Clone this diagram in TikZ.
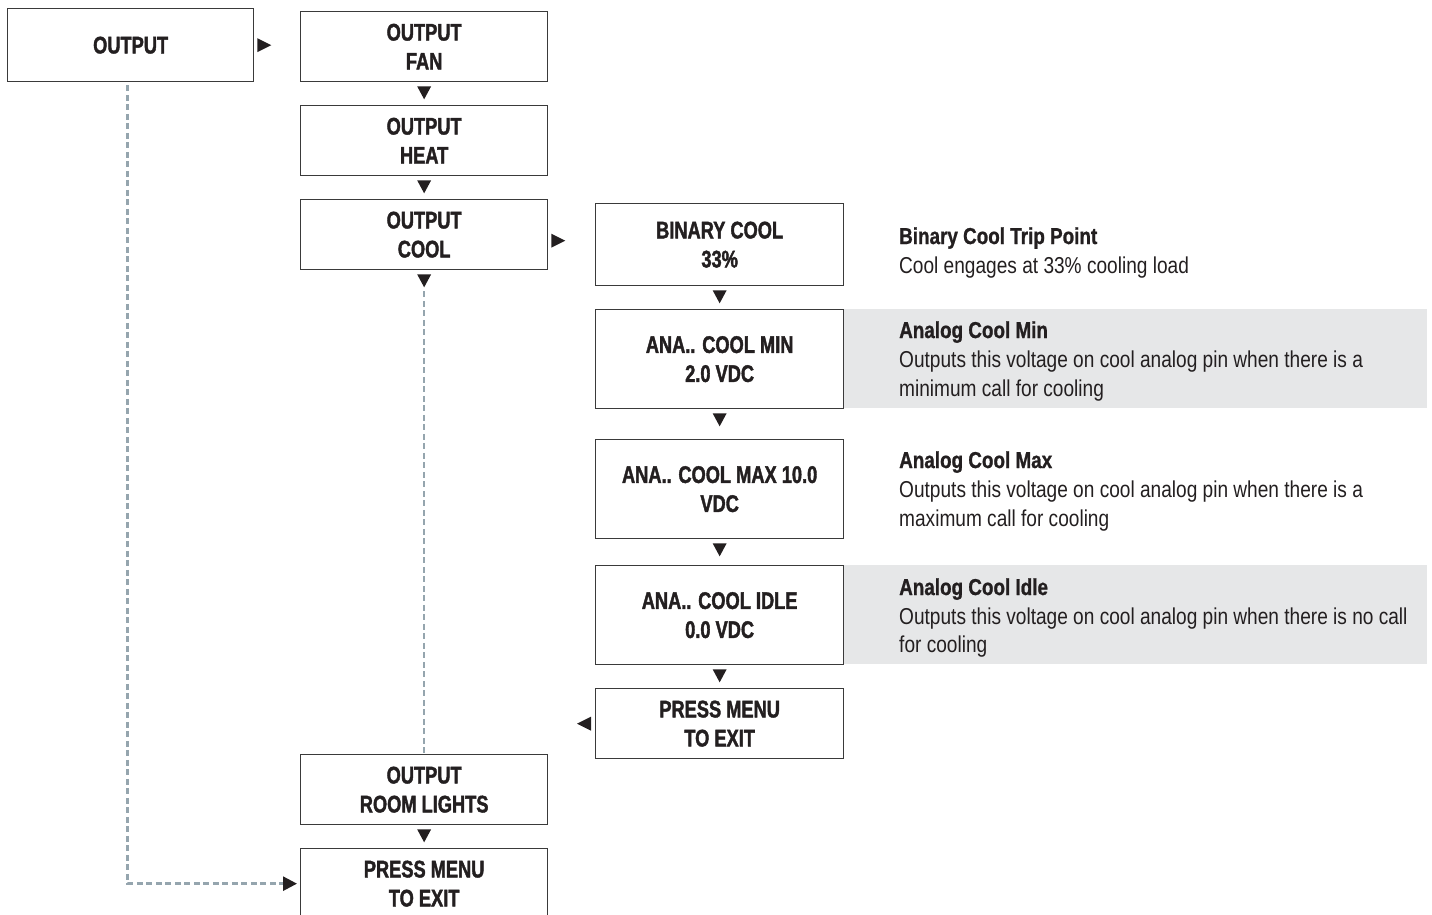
\documentclass[tikz,border=0pt]{standalone}
\usepackage{fontspec}
\newfontfamily\boxfont[FakeStretch=0.76, FakeBold=1.6]{Liberation Sans Bold}
\newfontfamily\descbold[FakeStretch=0.82, FakeBold=1.0]{Liberation Sans Bold}
\newfontfamily\descfont[FakeStretch=0.83]{Liberation Sans}
\usetikzlibrary{calc,arrows.meta}
\definecolor{ink}{HTML}{231F20}
\definecolor{frame}{HTML}{3A3A3A}
\definecolor{band}{HTML}{E6E7E8}
\definecolor{dashc}{HTML}{95A5AE}
\tikzset{
  menubox/.style={draw=frame, line width=1.3pt, fill=white, anchor=north west,
    minimum width=247pt, minimum height=70pt, inner sep=0pt, align=center,
    text=ink, font=\boxfont\fontsize{24}{29}\selectfont},
  desctitle/.style={anchor=base west, inner sep=0pt, text=ink,
    font=\descbold\fontsize{23}{29}\selectfont},
  descline/.style={anchor=base west, inner sep=0pt, text=ink,
    font=\descfont\fontsize{23}{29}\selectfont},
  dashline/.style={draw=dashc, line width=2.6pt, dash pattern=on 6pt off 3.5pt},
  downtri/.pic={\fill[ink] (-7,0) -- (7,0) -- (0,13) -- cycle;},
  righttri/.pic={\fill[ink] (0,-7) -- (0,7) -- (14,0) -- cycle;},
  lefttri/.pic={\fill[ink] (0,-7) -- (0,7) -- (-14,0) -- cycle;},
}
\begin{document}
\begin{tikzpicture}[x=1pt, y=-1pt]
\useasboundingbox (0,0) rectangle (1432,914);

% shaded description bands
\fill[band] (843,309) rectangle (1427,408);
\fill[band] (843,565) rectangle (1427,664);

% main menu column
\node[menubox, minimum width=246pt, minimum height=73pt] (out) at (7,8) {OUTPUT};
\node[menubox] (fan)   at (300,11)  {OUTPUT\\FAN};
\node[menubox] (heat)  at (300,105) {OUTPUT\\HEAT};
\node[menubox] (cool)  at (300,199) {OUTPUT\\COOL};
\node[menubox] (room)  at (300,754) {OUTPUT\\ROOM LIGHTS};
\node[menubox] (exitA) at (300,848) {PRESS MENU\\TO EXIT};

% cooling sub-menu column
\node[menubox, minimum width=248pt, minimum height=82pt] (bin) at (595,203) {BINARY COOL\\33\%};
\node[menubox, minimum width=248pt, minimum height=99pt] (amin) at (595,309) {ANA.. COOL MIN\\2.0 VDC};
\node[menubox, minimum width=248pt, minimum height=99pt] (amax) at (595,439) {ANA.. COOL MAX 10.0\\VDC};
\node[menubox, minimum width=248pt, minimum height=99pt] (aidle) at (595,565) {ANA.. COOL IDLE\\0.0 VDC};
\node[menubox, minimum width=248pt] (exitB) at (595,688) {PRESS MENU\\TO EXIT};

% step markers
\pic at ($(out.east)+(3,0)$) {righttri};
\pic at ($(cool.east)+(3,6)$) {righttri};
\pic at ($(fan.south)+(0,4)$) {downtri};
\pic at ($(heat.south)+(0,4)$) {downtri};
\pic at ($(cool.south)+(0,4)$) {downtri};
\pic at ($(room.south)+(0,4)$) {downtri};
\pic at ($(bin.south)+(0,4)$) {downtri};
\pic at ($(amin.south)+(0,4)$) {downtri};
\pic at ($(amax.south)+(0,4)$) {downtri};
\pic at ($(aidle.south)+(0,4)$) {downtri};
\pic at ($(exitB.west)+(-4,0)$) {lefttri};

% return paths
\draw[dashline] ($(cool.south)+(0,21)$) -- (room.north);
\draw[dashline, -{Triangle[length=14pt, width=14pt, color=ink, fill=ink]}, shorten >=3pt]
  ($(out.south)+(-3,3)$) |- (exitA.west);

% descriptions
\node[desctitle] (d1t) at (899,244) {Binary Cool Trip Point};
\node[descline]  (d1a) at (899,273) {Cool engages at 33\% cooling load};

\node[desctitle] (d2t) at (899,338) {Analog Cool Min};
\node[descline]  (d2a) at (899,367) {Outputs this voltage on cool analog pin when there is a};
\node[descline]  (d2b) at (899,396) {minimum call for cooling};

\node[desctitle] (d3t) at (899,468) {Analog Cool Max};
\node[descline]  (d3a) at (899,497) {Outputs this voltage on cool analog pin when there is a};
\node[descline]  (d3b) at (899,526) {maximum call for cooling};

\node[desctitle] (d4t) at (899,595) {Analog Cool Idle};
\node[descline]  (d4a) at (899,624) {Outputs this voltage on cool analog pin when there is no call};
\node[descline]  (d4b) at (899,652) {for cooling};
\end{tikzpicture}
\end{document}
